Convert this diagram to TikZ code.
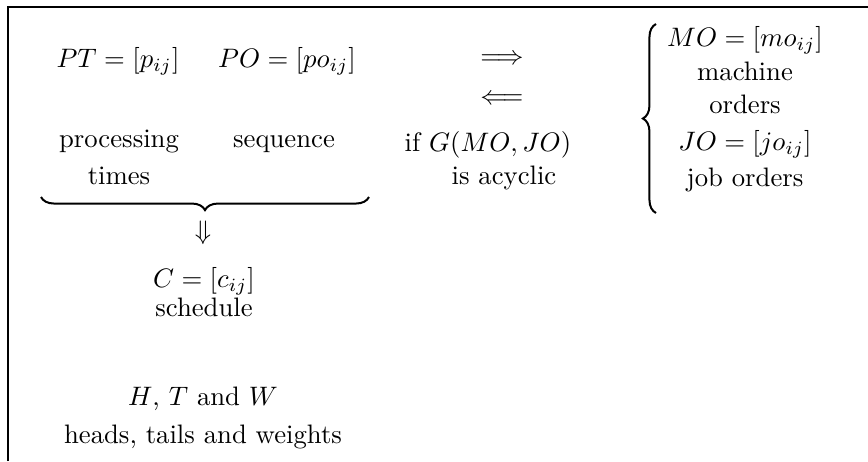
\documentclass[tikz,border=0pt]{standalone}
\usetikzlibrary{decorations.pathreplacing}
\begin{document}
\begin{tikzpicture}[x=0.3745pt,y=-0.3745pt,
  txt/.style={inner sep=0pt, anchor=base},
  frame/.style={line width=0.8pt},
  br/.style={decorate, decoration={brace, amplitude=4.9pt}, line width=0.75pt}]
\useasboundingbox (0,0) rectangle (868,461);
\coordinate (fb) at (8,461);
\coordinate (fc) at (8,7);
\coordinate (fr) at (868,7);
\draw[frame] (fb) -- (fc) -- (fr);
% left column
\node[txt] (pt) at (118,67) {$PT=[p_{ij}]$};
\node[txt] (po) at (287,67) {$PO=[po_{ij}]$};
\node[txt] (proc) at (119,147) {processing};
\node[txt] (times) at (119,184) {times};
\node[txt] (seq) at (284,147) {sequence};
\coordinate (ua) at (369,197);
\coordinate (ub) at (41,197);
\draw[br] (ua) -- (ub);
\node[txt] (down) at (203,239) {$\Downarrow$};
\node[txt] (c) at (204,287) {$C=[c_{ij}]$};
\node[txt] (sch) at (204,316) {schedule};
\node[txt] (htw) at (203,405) {$H$, $T$ and $W$};
\node[txt] (heads) at (203,443) {heads, tails and weights};
% middle column
\node[txt] (imp) at (502,64) {$\Longrightarrow$};
\node[txt] (rimp) at (502,104) {$\Longleftarrow$};
\node[txt] (ifg) at (488,151) {if $G(MO,JO)$};
\node[txt] (acyc) at (504,184) {is acyclic};
% right column
\coordinate (ra) at (656,213);
\coordinate (rb) at (656,24);
\draw[br] (ra) -- (rb);
\node[txt] (mo) at (745,46) {$MO=[mo_{ij}]$};
\node[txt] (mach) at (745,80) {machine};
\node[txt] (ord) at (745,113) {orders};
\node[txt] (jo) at (745,150) {$JO=[jo_{ij}]$};
\node[txt] (job) at (745,186) {job orders};
\end{tikzpicture}
\end{document}
